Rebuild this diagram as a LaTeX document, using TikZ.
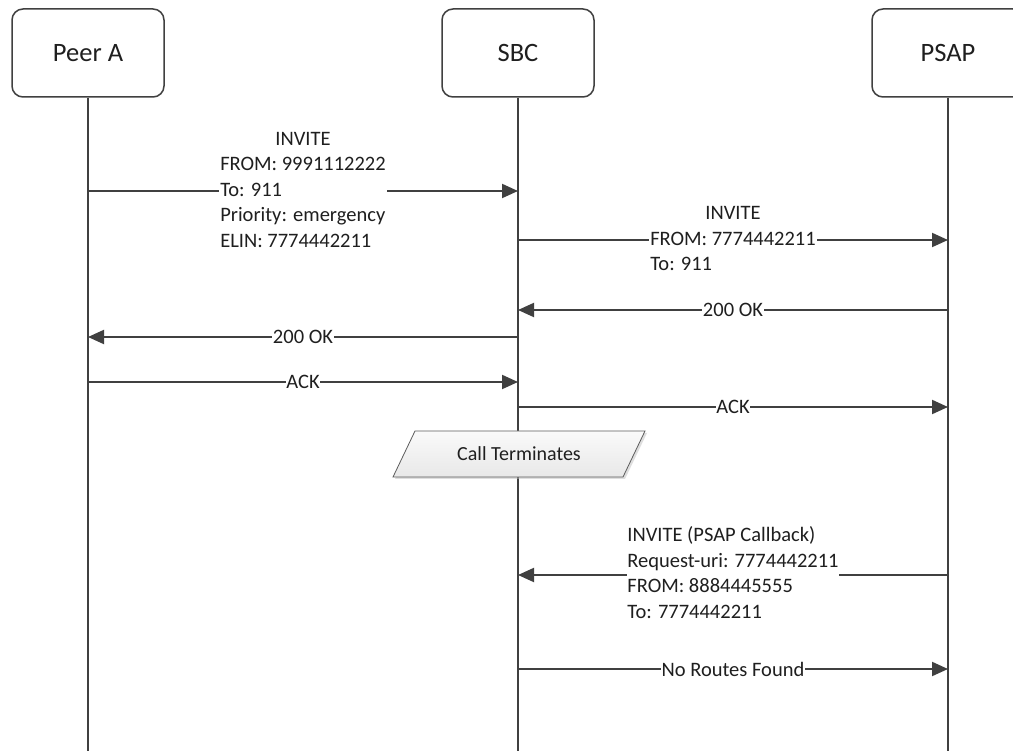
\documentclass[tikz,border=0pt]{standalone}
\usepackage{fontspec}
\setmainfont{Carlito}
\usetikzlibrary{arrows.meta}
\definecolor{linegray}{HTML}{404040}
\definecolor{txt}{HTML}{1F1F1F}
\begin{document}
\begin{tikzpicture}[x=1pt,y=-1pt,
  actor/.style={draw=linegray, line width=1.5pt, rounded corners=11pt,
    minimum width=152pt, minimum height=88pt, inner sep=0pt,
    font=\fontsize{26.5}{30}\selectfont, text=txt, fill=white},
  life/.style={draw=linegray, line width=2pt},
  msg/.style={draw=linegray, line width=2pt, -{Triangle[length=16pt,width=14pt]}},
  lbl/.style={fill=white, inner xsep=0.8pt, inner ysep=1pt,
    font=\fontsize{20.5}{25.5}\selectfont, text=txt},
  notetext/.style={inner sep=0pt, font=\fontsize{20}{24}\selectfont, text=txt},
  notefill/.style={draw=linegray!85, line width=0.8pt, top color=black!2, bottom color=black!9},
  noteshadow/.style={fill=black!25, opacity=0.5}
]
\path[use as bounding box] (0,0) rectangle (1013,751);
\fill[white] (0,0) rectangle (1013,751);
\begin{scope}
\clip (0,0) rectangle (1013,751);
\node[actor] (pa) at (88,53) {Peer A};
\node[actor] (sbc) at (518,53) {SBC};
\node[actor] (psap) at (948,53) {PSAP};
\coordinate (bot) at (0,751);
\draw[life] (pa.south) -- (pa.south |- bot);
\draw[life] (sbc.south) -- (sbc.south |- bot);
\draw[life] (psap.south) -- (psap.south |- bot);

\coordinate (y1) at (0,191);
\coordinate (y2) at (0,240);
\coordinate (y3) at (0,310);
\coordinate (y4) at (0,337);
\coordinate (y5) at (0,382);
\coordinate (y6) at (0,407);
\coordinate (y8) at (0,575);
\coordinate (y9) at (0,669);

\draw[msg] (pa |- y1) -- node[lbl] {\begin{tabular}{@{}l@{}}\multicolumn{1}{@{}c@{}}{INVITE}\\FROM: 9991112222\\To: 911\\Priority: emergency\\ELIN: 7774442211\end{tabular}} (sbc |- y1);
\draw[msg] (sbc |- y2) -- node[lbl] {\begin{tabular}{@{}l@{}}\multicolumn{1}{@{}c@{}}{INVITE}\\FROM: 7774442211\\To: 911\end{tabular}} (psap |- y2);
\draw[msg] (psap |- y3) -- node[lbl] {200 OK} (sbc |- y3);
\draw[msg] (sbc |- y4) -- node[lbl] {200 OK} (pa |- y4);
\draw[msg] (pa |- y5) -- node[lbl] {ACK} (sbc |- y5);
\draw[msg] (sbc |- y6) -- node[lbl] {ACK} (psap |- y6);

% Call Terminates parallelogram
\coordinate (ctc) at (519,454);
\fill[noteshadow] ([shift={(-124,25)}]ctc) -- ([shift={(-102,-21)}]ctc) -- ([shift={(128,-21)}]ctc) -- ([shift={(106,25)}]ctc) -- cycle;
\path[notefill] ([shift={(-126,23)}]ctc) -- ([shift={(-104,-23)}]ctc) -- ([shift={(126,-23)}]ctc) -- ([shift={(104,23)}]ctc) -- cycle;
\node[notetext] (ct) at (ctc) {Call Terminates};

\draw[msg] (psap |- y8) -- node[lbl] {\begin{tabular}{@{}l@{}}INVITE (PSAP Callback)\\Request-uri: 7774442211\\FROM: 8884445555\\To: 7774442211\end{tabular}} (sbc |- y8);
\draw[msg] (sbc |- y9) -- node[lbl] {No Routes Found} (psap |- y9);
\end{scope}
\end{tikzpicture}
\end{document}
